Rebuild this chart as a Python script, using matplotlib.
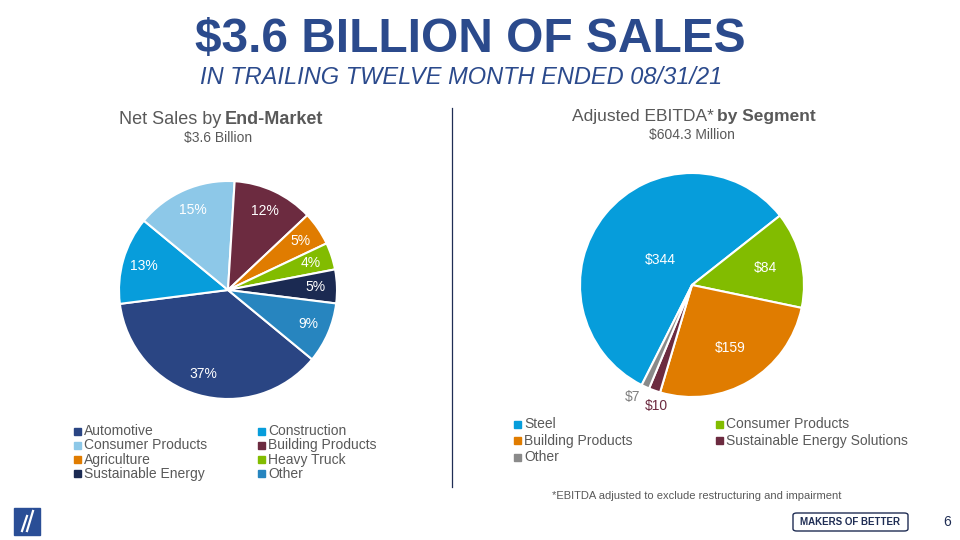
import numpy as np
import matplotlib
matplotlib.use("Agg")
import matplotlib.pyplot as plt
from matplotlib.patches import Rectangle, FancyBboxPatch

plt.rcParams['font.family'] = ['Liberation Sans', 'DejaVu Sans']

# Net sales by end-market (percent)
market_names = ['Automotive', 'Construction', 'Consumer Products', 'Building Products',
                'Agriculture', 'Heavy Truck', 'Sustainable Energy', 'Other']
market_pct = [37, 13, 15, 12, 5, 4, 5, 9]
market_colors = ['#2A4583', '#079DDB', '#8DC8E8', '#6C2B40',
                 '#E07C00', '#82BC00', '#1B2A52', '#2785BF']

# Adjusted EBITDA by segment ($M)
segment_names = ['Steel', 'Consumer Products', 'Building Products',
                 'Sustainable Energy Solutions', 'Other']
segment_vals = [344, 84, 159, 10, 7]
segment_colors = ['#069DDB', '#82BC00', '#E07C00', '#6C2B40', '#8A8A8A']

# label styling for the EBITDA pie (colour, radius factor, angle shift in degrees)
segment_label_colors = ['white', 'white', 'white', '#6C2B40', '#7F7F7F']
segment_label_r = [0.36, 0.67, 0.66, 1.13, 1.13]
segment_label_shift = [0, 0, 0, 3, -3.5]

BLUE = '#2B4A8C'
GRAY = '#595959'
NAVY = '#1F2D54'
W, H = 960, 540


def fx(x):
    return x / W


def fy(y):
    return 1 - y / H


def pie_axes(fig, cx, cy, r):
    return fig.add_axes([fx(cx - r), fy(cy + r), 2 * r / W, 2 * r / H])


fig = plt.figure(figsize=(9.6, 5.4), dpi=100)

# header
fig.text(fx(470), fy(40), '$3.6 BILLION OF SALES', color=BLUE, fontsize=34.5,
         fontweight='bold', ha='center', va='center')
fig.text(fx(461), fy(77), 'IN TRAILING TWELVE MONTH ENDED 08/31/21', color=BLUE,
         fontsize=17, style='italic', ha='center', va='center')

# left pie
ax1 = pie_axes(fig, 228, 290, 109)
wedges1, _, autotexts1 = ax1.pie(market_pct, colors=market_colors, startangle=320.5,
                                 counterclock=False, autopct='%1.0f%%', pctdistance=0.8,
                                 wedgeprops=dict(edgecolor='white', linewidth=1.5),
                                 textprops=dict(color='white', fontsize=10))
ax1.set_xlim(-1, 1)
ax1.set_ylim(-1, 1)

fig.text(fx(221), fy(119), 'Net Sales by', color=GRAY, fontsize=13, ha='right', va='center')
fig.text(fx(225), fy(119), 'End-Market', color=GRAY, fontsize=13, fontweight='bold',
         ha='left', va='center')
fig.text(fx(218), fy(138), '$3.6 Billion', color=GRAY, fontsize=10, ha='center', va='center')

# right pie
ax2 = pie_axes(fig, 692, 285, 112)
wedges2, _ = ax2.pie(segment_vals, colors=segment_colors, startangle=243.3,
                     counterclock=False,
                     wedgeprops=dict(edgecolor='white', linewidth=1.5))
ax2.set_xlim(-1, 1)
ax2.set_ylim(-1, 1)
for w, v, c, rr, sh in zip(wedges2, segment_vals, segment_label_colors,
                           segment_label_r, segment_label_shift):
    ang = np.deg2rad((w.theta1 + w.theta2) / 2 + sh)
    ax2.text(rr * np.cos(ang), rr * np.sin(ang), f'${v}', color=c, fontsize=10,
             ha='center', va='center')

fig.text(fx(714), fy(116), 'Adjusted EBITDA*', color=GRAY, fontsize=12.5, ha='right', va='center')
fig.text(fx(717), fy(116), 'by Segment', color=GRAY, fontsize=12.5, fontweight='bold',
         ha='left', va='center')
fig.text(fx(692), fy(135), '$604.3 Million', color=GRAY, fontsize=10, ha='center', va='center')


# legends (row-major, two columns)
def draw_legend(names, colors, x0, x1, y0, dy):
    for i, (n, c) in enumerate(zip(names, colors)):
        x = x0 if i % 2 == 0 else x1
        y = y0 + (i // 2) * dy
        fig.patches.append(Rectangle((fx(x), fy(y + 3.5)), 7 / W, 7 / H, color=c,
                                     transform=fig.transFigure))
        fig.text(fx(x + 10), fy(y), n, color=GRAY, fontsize=10, ha='left', va='center')


draw_legend(market_names, market_colors, 74, 258, 431, 14.3)
draw_legend(segment_names, segment_colors, 514, 716, 424, 16.5)

fig.text(fx(697), fy(496), '*EBITDA adjusted to exclude restructuring and impairment',
         color=GRAY, fontsize=8, ha='center', va='center')

# divider
fig.add_artist(plt.Line2D([fx(452), fx(452)], [fy(108), fy(487)], color=NAVY,
                          linewidth=0.9))

# footer decorations
fig.patches.append(Rectangle((fx(14), fy(535)), 26 / W, 27 / H, color='#2A4E96',
                             transform=fig.transFigure))
fig.add_artist(plt.Line2D([fx(22), fx(27)], [fy(531), fy(516)], color='white', linewidth=1.6))
fig.add_artist(plt.Line2D([fx(27), fx(33)], [fy(531), fy(511)], color='white', linewidth=1.6))
fig.patches.append(FancyBboxPatch((fx(793), fy(531)), 115 / W, 18 / H,
                                  boxstyle='round,pad=0,rounding_size=0.004',
                                  facecolor='white', edgecolor=NAVY, linewidth=1,
                                  transform=fig.transFigure))
fig.text(fx(850), fy(522), 'MAKERS OF BETTER', color=NAVY, fontsize=7,
         fontweight='bold', ha='center', va='center')
fig.text(fx(947), fy(522), '6', color=NAVY, fontsize=10, ha='center', va='center')

fig.savefig('out.png', dpi=100)
